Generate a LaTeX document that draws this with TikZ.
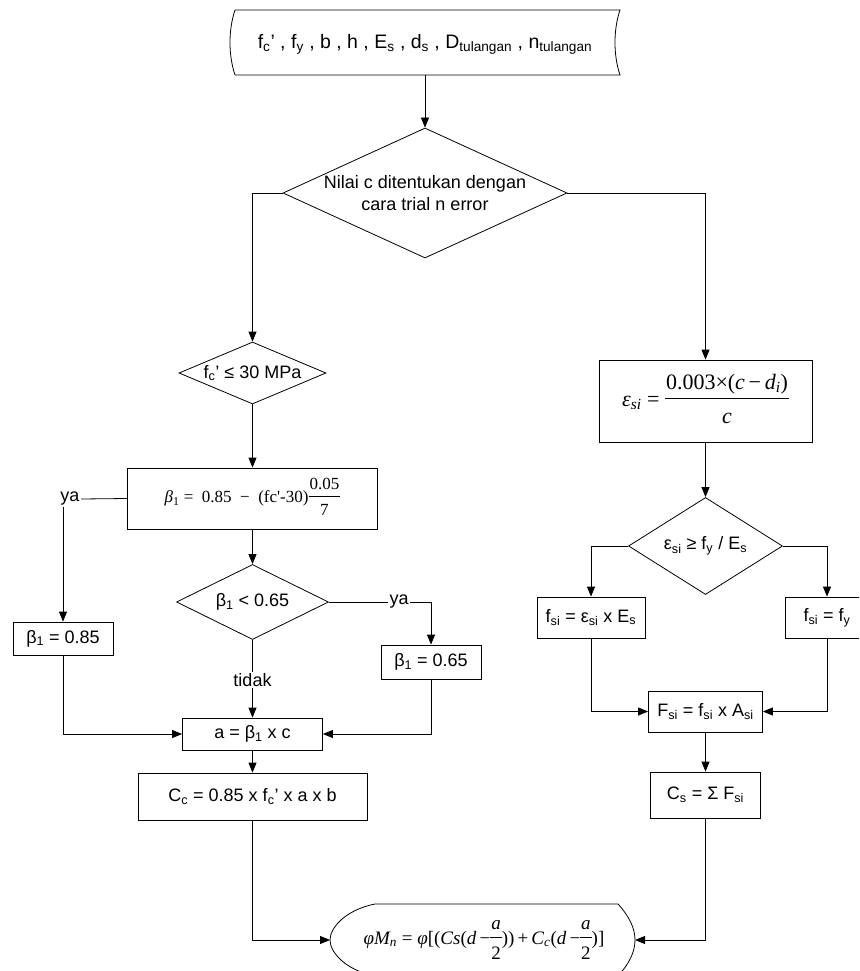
\documentclass[tikz,border=0pt]{standalone}
\usepackage{fontspec}
\setmainfont{Liberation Sans}
\newfontfamily\tms{Liberation Serif}
\usetikzlibrary{shapes.geometric,arrows.meta}
\newcommand\sbt[1]{\textsubscript{#1}}
\newcommand\ti[1]{{\tms\itshape #1}}
\newcommand\tr[1]{{\tms #1}}
\newcommand\fr[2]{{\setlength\arrayrulewidth{0.7pt}\setlength\tabcolsep{1pt}\begin{tabular}[c]{c}#1\\[1pt]\hline\rule{0pt}{1.1em}#2\end{tabular}}}
\begin{document}
\begin{tikzpicture}[x=1pt,y=-1pt,
  every node/.style={font=\fontsize{18}{22}\selectfont, text=black},
  box/.style={draw, rectangle, inner sep=0pt, line width=0.8pt},
  dia/.style={draw, diamond, inner sep=0pt, line width=0.8pt},
  lbl/.style={inner sep=1.5pt},
  ln/.style={line width=0.8pt},
  arr/.style={ln, -{Triangle[length=10pt,width=8pt]}}]
\useasboundingbox (0,0) rectangle (859,971);
\clip (0,0) rectangle (859,971);
\fill[white] (0,0) rectangle (859,971);

% input shape
\draw[ln] (235,10) -- (620,10) .. controls (613.3,30) and (613.3,55) .. (620,75)
  -- (235,75) .. controls (228.3,55) and (228.3,30) .. (235,10) -- cycle;
\node[font=\fontsize{19.5}{24}\selectfont] (inp) at (425,44)
  {f\sbt{c}’ , f\sbt{y} , b , h , E\sbt{s} , d\sbt{s} , D\sbt{tulangan} , n\sbt{tulangan}};
\coordinate (inpS) at (425,75);

% left column
\node[dia, minimum width=284pt, minimum height=130pt, aspect=2.18, align=center] (d1) at (425,193)
  {Nilai c ditentukan dengan\\cara trial n error};
\node[dia, minimum width=147pt, minimum height=62pt, aspect=2.37] (d2) at (252.5,373)
  {f\sbt{c}’ ≤ 30 MPa};
\node[box, minimum width=250pt, minimum height=61pt, font=\fontsize{17}{20}\selectfont] (b1) at (252.5,498.5)
  {\ti{β}\sbt{\tr{1}}\tr{ = ~0.85 ~− ~(fc'-30)}\fr{\tr{0.05}}{\tr{7}}};
\node[lbl] (ya1) at (70,499) {ya};
\node[box, minimum width=100pt, minimum height=33pt] (b085) at (63,638.5) {β\sbt{1} = 0.85};
\node[dia, minimum width=152pt, minimum height=75pt, aspect=2.03] (d3) at (252.5,602) {β\sbt{1} < 0.65};
\node[lbl] (ya2) at (399,602) {ya};
\node[box, minimum width=100pt, minimum height=34pt] (b065) at (431,662) {β\sbt{1} = 0.65};
\node[lbl] (tidak) at (252.5,680) {tidak};
\node[box, minimum width=140pt, minimum height=32pt] (a) at (252.5,734) {a = β\sbt{1} x c};
\node[box, minimum width=229pt, minimum height=47pt] (cc) at (252.5,796.5) {C\sbt{c} = 0.85 x f\sbt{c}’ x a x b};

% right column
\node[box, minimum width=213pt, minimum height=82pt, font=\fontsize{22}{26}\selectfont] (eps) at (705.5,401)
  {\ti{ε}\sbt{\ti{si}}\tr{ = }\fr{\tr{0.003×(}\ti{c}\,\tr{−}\,\ti{d}\sbt{\ti{i}}\tr{)}}{\ti{c}}};
\node[dia, minimum width=154pt, minimum height=97pt, aspect=1.59] (d4) at (705.5,546)
  {ε\sbt{si} ≥ f\sbt{y} / E\sbt{s}};
\node[box, minimum width=108pt, minimum height=41pt] (fs1) at (591,617.5) {f\sbt{si} = ε\sbt{si} x E\sbt{s}};
\node[box, minimum width=84pt, minimum height=41pt] (fs2) at (827,617.5) {f\sbt{si} = f\sbt{y}};
\node[box, minimum width=114pt, minimum height=41pt] (Fs) at (705.5,711.5) {F\sbt{si} = f\sbt{si} x A\sbt{si}};
\node[box, minimum width=110pt, minimum height=46pt] (cs) at (705.5,795) {C\sbt{s} = Σ F\sbt{si}};

% output shape
\draw[ln] (375,904) -- (618,904) .. controls (629,916) and (635,928) .. (635,940)
  .. controls (635,952) and (629,964) .. (618,976) -- (375,976)
  .. controls (345,970) and (330,952) .. (330,940) .. controls (330,928) and (345,910) .. (375,904) -- cycle;
\node[font=\fontsize{19}{22}\selectfont] (out) at (484,940)
  {\ti{φM}\sbt{\ti{n}}\tr{ = }\ti{φ}\tr{[(}\ti{Cs}\tr{(}\ti{d}\,\tr{−}\fr{\ti{a}}{\tr{2}}\tr{))\,+\,}\ti{C}\sbt{\ti{c}}\tr{(}\ti{d}\,\tr{−}\fr{\ti{a}}{\tr{2}}\tr{)]}};
\coordinate (outW) at (330,940);
\coordinate (outE) at (635,940);

% connectors
\draw[arr] (inpS) -- (d1.north);
\draw[arr] (d1.west) -| (d2.north);
\draw[arr] (d1.east) -| (eps.north);
\draw[arr] (d2.south) -- (b1.north);
\draw[ln] (b1.west) -- (ya1.east);
\draw[arr] (ya1.south -| b085.north) -- (b085.north);
\draw[arr] (b1.south) -- (d3.north);
\draw[ln] (d3.east) -- (ya2.west);
\draw[arr] (ya2.east) -| (b065.north);
\draw[ln] (d3.south) -- (tidak.north);
\draw[arr] (tidak.south) -- (a.north);
\draw[arr] (b085.south) |- (a.west);
\draw[arr] (b065.south) |- (a.east);
\draw[arr] (a.south) -- (cc.north);
\draw[arr] (cc.south) |- (outW);
\draw[arr] (eps.south) -- (d4.north);
\draw[arr] (d4.west) -| (fs1.north);
\draw[arr] (d4.east) -| (fs2.north);
\draw[arr] (fs1.south) |- (Fs.west);
\draw[arr] (fs2.south) |- (Fs.east);
\draw[arr] (Fs.south) -- (cs.north);
\draw[arr] (cs.south) |- (outE);
\end{tikzpicture}
\end{document}
